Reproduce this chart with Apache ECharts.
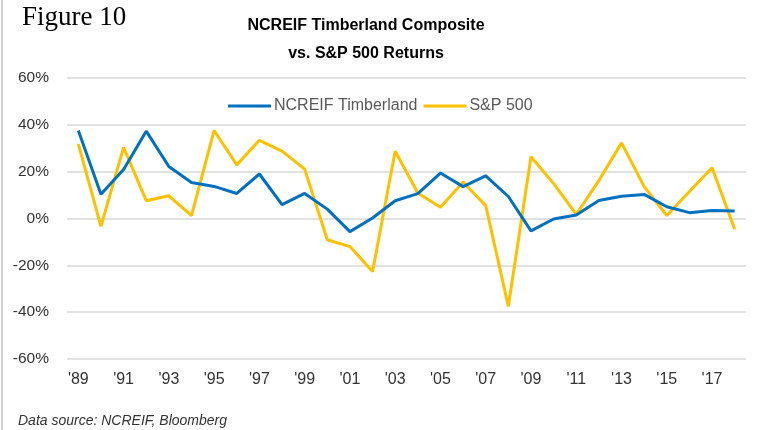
<!DOCTYPE html>
<html>
<head>
<meta charset="utf-8">
<script src="https://cdn.jsdelivr.net/npm/echarts@6/dist/echarts.min.js"></script>
<style>html,body{margin:0;padding:0;background:#fff}#c{width:761px;height:430px}</style>
</head>
<body>
<div id="c"></div>
<script>
const years = ["'89","'90","'91","'92","'93","'94","'95","'96","'97","'98","'99","'00","'01","'02","'03","'04","'05","'06","'07","'08","'09","'10","'11","'12","'13","'14","'15","'16","'17","'18"];
const ncreif = [37.6, 10.4, 20.9, 37.3, 22.2, 15.4, 13.7, 10.7, 19.0, 5.9, 10.7, 4.0, -5.6, 0.2, 7.6, 10.6, 19.4, 13.6, 18.2, 9.4, -5.3, -0.2, 1.5, 7.7, 9.5, 10.3, 5.0, 2.5, 3.4, 3.2];
const sp500 = [31.9, -3.4, 30.4, 7.6, 9.7, 1.2, 37.6, 22.9, 33.4, 28.8, 21.1, -9.1, -12.0, -22.6, 28.7, 10.9, 4.8, 15.6, 5.5, -37.5, 26.4, 14.9, 1.8, 16.2, 32.3, 13.6, 1.3, 11.5, 21.7, -4.6];
const yTicks = {min: -60, max: 60, interval: 20};

const SANS = '"Liberation Sans", Arial, sans-serif';
const chart = echarts.init(document.getElementById('c'), null, {renderer: 'canvas'});
chart.setOption({
  animation: false,
  backgroundColor: '#fff',
  title: {
    text: 'NCREIF Timberland Composite\nvs. S&P 500 Returns',
    left: 361, top: 7, textAlign: 'center',
    textStyle: {fontFamily: SANS, fontWeight: 'bold', fontSize: 16, color: '#000', lineHeight: 28}
  },
  graphic: [
    {type: 'text', left: 22, top: 4, style: {text: 'Figure 10', font: '27px "Liberation Serif", serif', fill: '#000'}},
    {type: 'text', left: 18, top: 414, style: {text: 'Data source: NCREIF, Bloomberg', font: 'italic 14px "Liberation Sans", Arial', fill: '#333'}},
    {type: 'line', shape: {x1: 2, y1: 0, x2: 2, y2: 430}, style: {stroke: '#d0d0d0', lineWidth: 2}}
  ],
  legend: {
    left: 223, top: 93,
    icon: 'rect', itemWidth: 43, itemHeight: 3, itemGap: 6,
    textStyle: {fontFamily: SANS, fontSize: 16, color: '#595959', padding: [0, 0, 0, -2]},
    data: ['NCREIF Timberland', 'S&P 500']
  },
  grid: {left: 67, top: 78, width: 679, height: 281, containLabel: false},
  xAxis: {
    type: 'category', data: years, boundaryGap: true,
    axisLine: {show: false}, axisTick: {show: false},
    axisLabel: {interval: 1, margin: 13, fontFamily: SANS, fontSize: 16, color: '#333'}
  },
  yAxis: {
    type: 'value', min: yTicks.min, max: yTicks.max, interval: yTicks.interval,
    axisLine: {show: false}, axisTick: {show: false},
    axisLabel: {formatter: '{value}%', margin: 18, fontFamily: SANS, fontSize: 15.5, color: '#333'},
    splitLine: {lineStyle: {color: '#d9d9d9', width: 1.5}}
  },
  series: [
    {name: 'NCREIF Timberland', type: 'line', data: ncreif, symbol: 'none', lineStyle: {color: '#0070C0', width: 3}, itemStyle: {color: '#0070C0'}, z: 3},
    {name: 'S&P 500', type: 'line', data: sp500, symbol: 'none', lineStyle: {color: '#FFC000', width: 3}, itemStyle: {color: '#FFC000'}, z: 2}
  ]
});
</script>
</body>
</html>
